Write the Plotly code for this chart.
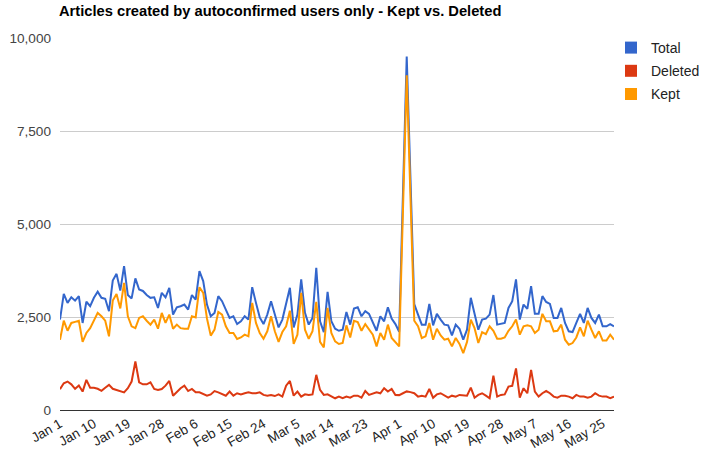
import pandas as pd
import plotly.graph_objects as go

start_date = "2017-01-01"
n_days = 148

total = [2430, 3120, 2880, 3030, 2940, 3060, 2340, 2910, 2790, 3015,
         3180, 3015, 2990, 2655, 3480, 3660, 3210, 3870, 3090, 3000,
         3540, 3240, 3200, 3090, 3015, 3030, 2745, 3150, 3030, 3285,
         2565, 2760, 2790, 2835, 2700, 3090, 2970, 3735, 3465, 2835,
         2520, 2610, 3060, 2925, 2700, 2475, 2520, 2310, 2385, 2520,
         2430, 3300, 2880, 2490, 2310, 2565, 2925, 2565, 2220, 2430,
         2835, 3285, 2220, 2565, 3510, 2610, 2295, 2475, 3825, 2385,
         2095, 3175, 2385, 2185, 2130, 2160, 2635, 2295, 2725, 2760,
         2520, 2655, 2585, 2340, 2130, 2520, 2385, 2760, 2455, 2310,
         2105, 5800, 9500, 6200, 2850, 2565, 2295, 2295, 2850, 2275,
         2585, 2430, 2295, 2275, 2005, 2295, 2185, 1890, 2160, 3015,
         2585, 2160, 2430, 2455, 2565, 3090, 2295, 2310, 2340, 2745,
         2925, 3510, 2430, 2835, 2720, 3330, 2585, 2585, 3060, 2905,
         2850, 2475, 2475, 2745, 2340, 2115, 2095, 2340, 2585, 2340,
         2745, 2475, 2340, 2565, 2250, 2250, 2310, 2250]

deleted = [560, 720, 765, 690, 570, 660, 495, 810, 600, 600,
           570, 515, 600, 675, 570, 540, 515, 475, 585, 765,
           1305, 745, 690, 690, 745, 565, 540, 565, 655, 780,
           385, 495, 585, 655, 510, 565, 475, 475, 420, 385,
           420, 510, 475, 420, 385, 495, 385, 450, 420, 450,
           475, 450, 450, 475, 405, 385, 405, 375, 420, 360,
           655, 780, 385, 495, 360, 420, 405, 420, 945, 540,
           405, 420, 360, 315, 360, 315, 360, 330, 385, 385,
           330, 510, 405, 450, 475, 450, 585, 495, 565, 405,
           400, 450, 500, 480, 450, 360, 385, 360, 565, 330,
           420, 450, 385, 330, 385, 360, 405, 385, 385, 600,
           330, 405, 450, 385, 315, 925, 360, 405, 420, 630,
           650, 1120, 330, 585, 450, 1080, 495, 360, 450, 510,
           450, 360, 330, 385, 385, 360, 315, 405, 360, 360,
           330, 360, 450, 385, 360, 360, 315, 360]

kept = [1890, 2400, 2130, 2340, 2370, 2400, 1830, 2070, 2200, 2400,
        2610, 2520, 2400, 1980, 2940, 3120, 2730, 3420, 2520, 2250,
        2200, 2475, 2520, 2400, 2295, 2430, 2185, 2610, 2340, 2565,
        2185, 2295, 2200, 2185, 2185, 2520, 2490, 3300, 3150, 2460,
        2000, 2160, 2635, 2565, 2250, 2070, 2070, 1910, 1950, 2025,
        1980, 2880, 2340, 2070, 1915, 2115, 2520, 2115, 1830, 2095,
        2250, 2670, 1775, 2025, 3150, 2160, 1915, 2115, 2905, 1830,
        1680, 2745, 2070, 1845, 1775, 1800, 2275, 1950, 2400, 2365,
        2130, 2310, 2160, 2025, 1710, 2070, 1890, 2295, 1935, 1830,
        1710, 5350, 9000, 5700, 2400, 2250, 1935, 1980, 2340, 1890,
        2185, 2005, 1890, 1915, 1710, 1935, 1775, 1530, 1830, 2430,
        2200, 1800, 2095, 2040, 2250, 2130, 1915, 1915, 1950, 2130,
        2250, 2430, 2025, 2250, 2275, 2250, 2070, 2160, 2585, 2385,
        2385, 2115, 2130, 2295, 1890, 1755, 1800, 1950, 2220, 1980,
        2400, 2160, 1935, 2115, 1865, 1865, 2025, 1890]

series_names = ["Total", "Deleted", "Kept"]
series_colors = ["#3366cc", "#dc3912", "#ff9900"]
y_tick_vals = [0, 2500, 5000, 7500, 10000]
y_tick_text = ["0", "2,500", "5,000", "7,500", "10,000"]

dates = pd.date_range(start_date, periods=n_days, freq="D")
series_values = [total, deleted, kept]

FONT = "Liberation Sans, Arial, sans-serif"

fig = go.Figure()
for name, vals, col in zip(series_names, series_values, series_colors):
    fig.add_trace(go.Scatter(x=dates, y=vals, mode="lines", name=name,
                             line=dict(color=col, width=2), showlegend=False,
                             hoverinfo="x+y"))
for name, col in zip(series_names, series_colors):
    fig.add_trace(go.Scatter(x=[None], y=[None], mode="markers", name=name,
                             legendgroup=name,
                             marker=dict(symbol="square", size=13, color=col),
                             showlegend=True))

fig.update_layout(
    width=701, height=456,
    margin=dict(l=60, r=87, t=38, b=46, autoexpand=False),
    paper_bgcolor="white", plot_bgcolor="white",
    font=dict(family=FONT, size=13, color="#222"),
    title=dict(text="<b>Articles created by autoconfirmed users only - Kept vs. Deleted</b>",
               x=59 / 701, xanchor="left", xref="container",
               y=1 - 11 / 456, yanchor="middle", yref="container",
               font=dict(family=FONT, size=14.7, color="#000")),
    legend=dict(x=611 / 701, xanchor="left", y=1 - 32 / 456, yanchor="top",
                xref="container", yref="container",
                font=dict(family=FONT, size=14, color="#222"),
                itemsizing="constant", tracegroupgap=2,
                bgcolor="rgba(0,0,0,0)"),
    showlegend=True,
)

fig.update_yaxes(range=[0, 10000], tickvals=y_tick_vals, ticktext=y_tick_text,
                 showgrid=True, gridcolor="#cccccc", gridwidth=1,
                 zeroline=False, showline=False, ticks="", automargin=False,
                 tickfont=dict(family=FONT, size=13.6, color="#444"),
                 ticklabelstandoff=8, fixedrange=True)
fig.update_xaxes(type="date", range=[dates[0], dates[-1]],
                 tick0=dates[0], dtick=9 * 86400000, tickformat="%b %-d",
                 tickangle=-30, showgrid=False, zeroline=False, automargin=False,
                 showline=True, linecolor="#333333", linewidth=1, ticks="",
                 tickfont=dict(family=FONT, size=13.5, color="#222"),
                 fixedrange=True)

fig.write_html("out.html")
